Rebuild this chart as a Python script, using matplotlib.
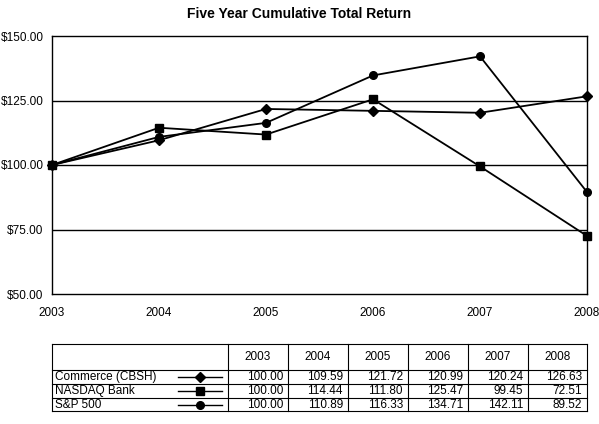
import matplotlib
matplotlib.use("Agg")
import matplotlib.pyplot as plt

years = [2003, 2004, 2005, 2006, 2007, 2008]
series_names = ["Commerce (CBSH)", "NASDAQ Bank", "S&P 500"]
cbsh = [100.00, 109.59, 121.72, 120.99, 120.24, 126.63]
nasdaq = [100.00, 114.44, 111.80, 125.47, 99.45, 72.51]
sp500 = [100.00, 110.89, 116.33, 134.71, 142.11, 89.52]
series = [cbsh, nasdaq, sp500]
markers = ["D", "s", "o"]
msizes = [5, 5.5, 5.5]

plt.rcParams['font.family'] = ['Liberation Sans', 'DejaVu Sans']
fig = plt.figure(figsize=(5.99, 4.24), dpi=100)
W, H = 599, 424
ax = fig.add_axes([52/W, 1-294/H, 535/W, 258/H])
for vals, m, ms in zip(series, markers, msizes):
    ax.plot(years, vals, color='black', lw=1.3, marker=m, ms=ms, clip_on=False, zorder=3)
ax.set_xlim(2003, 2008)
ax.set_ylim(50, 150)
ax.set_yticks([50, 75, 100, 125, 150])
ax.set_yticklabels([f"${v:.2f}" for v in [50, 75, 100, 125, 150]], fontsize=8.5)
ax.set_xticks(years)
ax.set_xticklabels([str(y) for y in years], fontsize=8.5)
for y in [75, 100, 125]:
    ax.axhline(y, color='black', lw=1, zorder=1)
ax.tick_params(axis='y', length=0, pad=6)
ax.tick_params(axis='x', length=0, pad=9)
for s in ax.spines.values():
    s.set_linewidth(1)
fig.text(0.5, 1-14/H, "Five Year Cumulative Total Return", ha='center', va='center',
         fontsize=10, fontweight='bold')

# table
tx0, tx1, ty0, ty1 = 52, 587, 344, 411
tab = fig.add_axes([tx0/W, 1-ty1/H, (tx1-tx0)/W, (ty1-ty0)/H])
tab.set_xlim(tx0, tx1)
tab.set_ylim(ty1, ty0)
tab.axis('off')
colx = [228, 288, 348, 408, 468, 528, 587]
rowy = [344, 370, 384, 398, 411]
for x in [tx0] + colx:
    tab.plot([x, x], [ty0, ty1], color='black', lw=0.8, clip_on=False)
for y in rowy:
    tab.plot([tx0, tx1], [y, y], color='black', lw=0.8, clip_on=False)
for i, yr in enumerate(years):
    tab.text((colx[i]+colx[i+1])/2, (rowy[0]+rowy[1])/2, str(yr), ha='center', va='center', fontsize=8.5)
for r, (name, vals, m, ms) in enumerate(zip(series_names, series, markers, msizes)):
    yc = (rowy[r+1]+rowy[r+2])/2
    tab.text(tx0+3, yc, name, ha='left', va='center', fontsize=8.5)
    tab.plot([178, 222], [yc, yc], color='black', lw=1)
    tab.plot([200], [yc], marker=m, ms=ms, color='black')
    for i, v in enumerate(vals):
        tab.text(colx[i+1]-5, yc, f"{v:.2f}", ha='right', va='center', fontsize=8.5)

fig.savefig("out.png", dpi=100)
